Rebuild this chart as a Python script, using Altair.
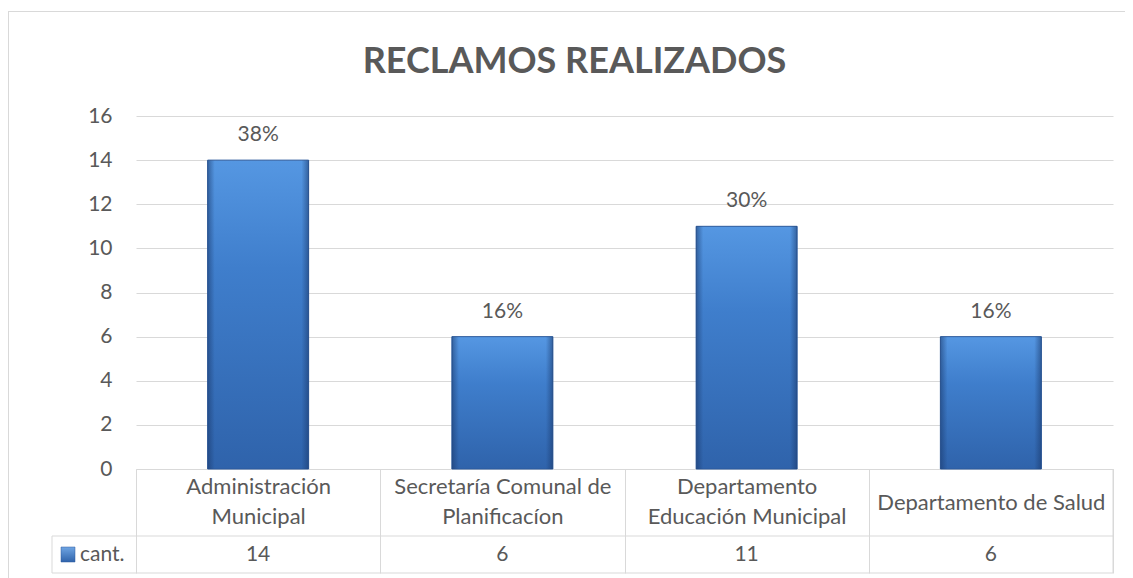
import altair as alt
import pandas as pd

# ---- data ----
categories = [
    "Administración|Municipal",
    "Secretaría Comunal de|Planificacíon",
    "Departamento|Educación Municipal",
    "Departamento de Salud",
]
values = [14, 6, 11, 6]
pct_labels = ["38%", "16%", "30%", "16%"]
series_name = "cant."
y_ticks = [0, 2, 4, 6, 8, 10, 12, 14, 16]
title_text = "RECLAMOS REALIZADOS"

df = pd.DataFrame({"cat": categories, "val": values, "pct": pct_labels})

FONT = "Lato"
TXT = "#595959"
GRID = "#d9d9d9"
FS = 21

PW, PH = 977, 353  # plot area

x_enc = alt.X(
    "cat:N",
    sort=categories,
    scale=alt.Scale(paddingInner=0, paddingOuter=0),
    axis=alt.Axis(
        title=None,
        labelExpr="split(datum.label, '|')",
        labelAngle=0,
        labelBaseline={
            "condition": {"test": "indexof(datum.label, '|') >= 0", "value": "line-bottom"},
            "value": "middle",
        },
        labelLineHeight=30,
        labelPadding=-71,
        labelFontSize=22,
        labelColor=TXT,
        labelFont=FONT,
        labelLimit=400,
        labelOverlap=False,
        tickBand="extent",
        tickSize=104,
        tickColor=GRID,
        tickWidth=1,
        domainColor=GRID,
        domainWidth=1,
    ),
)
y_enc = alt.Y(
    "val:Q",
    scale=alt.Scale(domain=[0, 16], nice=False),
    axis=alt.Axis(
        title=None,
        values=y_ticks,
        domain=False,
        ticks=False,
        labelPadding=24,
        labelFontSize=FS,
        labelColor=TXT,
        labelFont=FONT,
        grid=True,
        gridColor=GRID,
        gridWidth=1,
    ),
)

grad_v = alt.Gradient(
    gradient="linear", x1=0, y1=0, x2=0, y2=1,
    stops=[
        alt.GradientStop(color="#5597e2", offset=0),
        alt.GradientStop(color="#3f7ecc", offset=0.35),
        alt.GradientStop(color="#2f63ab", offset=1),
    ],
)
grad_h = alt.Gradient(
    gradient="linear", x1=0, y1=0, x2=1, y2=0,
    stops=[
        alt.GradientStop(color="rgba(25,55,105,0.55)", offset=0),
        alt.GradientStop(color="rgba(25,55,105,0)", offset=0.07),
        alt.GradientStop(color="rgba(25,55,105,0)", offset=0.93),
        alt.GradientStop(color="rgba(25,55,105,0.55)", offset=1),
    ],
)
grad_sq = alt.Gradient(
    gradient="linear", x1=0, y1=0, x2=0, y2=1,
    stops=[
        alt.GradientStop(color="#6fa5e3", offset=0),
        alt.GradientStop(color="#2f63ab", offset=1),
    ],
)

base = alt.Chart(df)

bars = base.mark_bar(size=101, fill=grad_v, stroke="#2c5a9c", strokeWidth=1).encode(x=x_enc, y=y_enc)
bar_edges = base.mark_bar(size=101, fill=grad_h).encode(x=x_enc, y=y_enc)
pct = base.mark_text(dy=-25, fontSize=FS, color=TXT, font=FONT).encode(x=x_enc, y=y_enc, text="pct:N")
vals = base.mark_text(fontSize=FS, color=TXT, font=FONT, baseline="middle").encode(
    x=x_enc, y=alt.value(438.5), text="val:Q"
)

one = alt.Data(values=[{"k": 1}])


def rule(x, x2, y, y2, color=GRID):
    return alt.Chart(one).mark_rule(color=color, strokeWidth=1).encode(
        x=alt.value(x), x2=alt.value(x2), y=alt.value(y), y2=alt.value(y2)
    )


table_lines = [
    rule(-84, PW, 420, 420),
    rule(-84, PW, 457, 457),
    rule(-84, -84, 420, 457),
    rule(PW, PW, PH, 457),
    # outer chart border
    rule(-128, 990, -104.5, -104.5),
    rule(-127.5, -127.5, -104.5, 462),
]

legend_sq = alt.Chart(one).mark_rect(fill=grad_sq, stroke="#2c5a9c", strokeWidth=0.5).encode(
    x=alt.value(-75), x2=alt.value(-61), y=alt.value(431), y2=alt.value(446)
)
legend_txt = alt.Chart(one).mark_text(
    text=series_name, align="left", baseline="middle", fontSize=FS, color=TXT, font=FONT
).encode(x=alt.value(-56), y=alt.value(438.5))

title_mark = alt.Chart(one).mark_text(
    text=title_text, align="center", baseline="alphabetic",
    fontSize=36, fontWeight="bold", color=TXT, font=FONT
).encode(x=alt.value(438.5), y=alt.value(-43))

chart = alt.layer(
    bars, bar_edges, pct, vals, *table_lines, legend_sq, legend_txt, title_mark
).properties(
    width=PW,
    height=PH,
    padding={"left": 128, "top": 108, "right": 12, "bottom": 109},
    autosize=alt.AutoSizeParams(type="none"),
).configure_view(strokeWidth=0)

chart.save("out.html", embed_options={"renderer": "svg", "actions": False})
